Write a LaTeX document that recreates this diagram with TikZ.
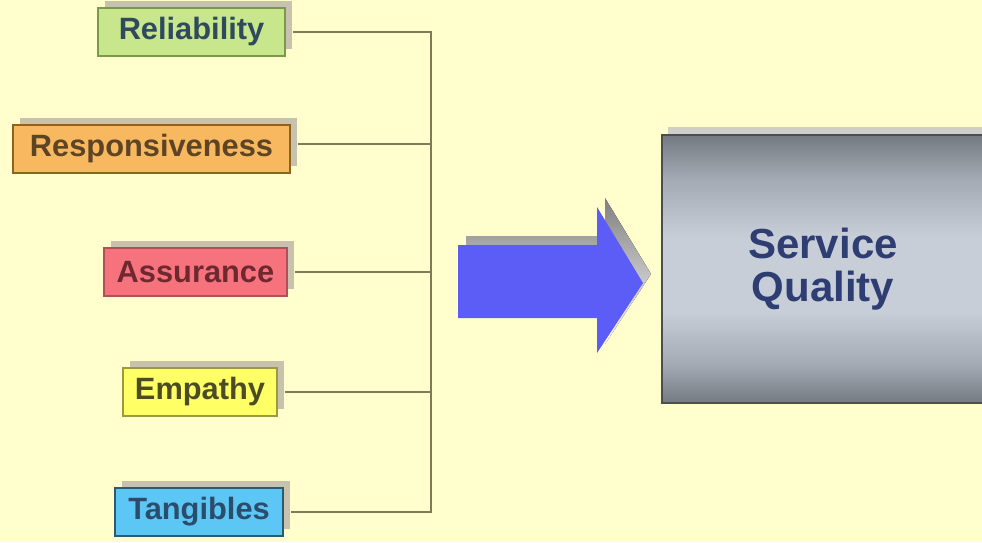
\documentclass[tikz,border=0pt]{standalone}
\usepackage{fontspec}
\setmainfont{Liberation Sans}
\usetikzlibrary{scopes,shadows}
\definecolor{paper}{HTML}{FFFECC}
\definecolor{shade}{HTML}{C6C2AE}
\definecolor{linec}{HTML}{7E7C58}
\definecolor{arrowblue}{HTML}{5C5CF6}
\definecolor{relf}{HTML}{C8E68C}
\definecolor{reld}{HTML}{7A9A4A}
\definecolor{relt}{HTML}{2E4A5C}
\definecolor{respf}{HTML}{F8B860}
\definecolor{respd}{HTML}{8A6424}
\definecolor{respt}{HTML}{5C4424}
\definecolor{assf}{HTML}{F6727C}
\definecolor{assd}{HTML}{B05058}
\definecolor{asst}{HTML}{6E2830}
\definecolor{empf}{HTML}{FFFF66}
\definecolor{empd}{HTML}{9A9A40}
\definecolor{empt}{HTML}{4C4C24}
\definecolor{tanf}{HTML}{5CC6F5}
\definecolor{tand}{HTML}{2C5A70}
\definecolor{tant}{HTML}{2C4C6C}
\definecolor{sqtext}{HTML}{2E3D72}
\definecolor{sqdraw}{HTML}{4A4E52}
\definecolor{steeldark}{HTML}{737A82}
\definecolor{steelmid}{HTML}{A2A9B2}
\definecolor{steellight}{HTML}{C8CED8}
% bright band across the middle, dark at top and bottom
\pgfdeclareverticalshading{steel}{100bp}{color(0bp)=(steeldark); color(25bp)=(steeldark);
    color(32bp)=(steelmid); color(42bp)=(steellight); color(56bp)=(steellight);
    color(67bp)=(steelmid); color(75bp)=(steeldark); color(100bp)=(steeldark)}
\tikzset{
    factor/.style={draw, line width=1.5pt, minimum height=48pt, inner sep=0pt,
        font=\bfseries\fontsize{30.8}{36}\selectfont,
        drop shadow={shadow xshift=7pt, shadow yshift=7pt, fill=shade, opacity=1}},
    link/.style={draw=linec, line width=1.3pt, shorten <=7pt},
    bigarrow/.pic={
        \fill[shade] (8,-9) -- (147,-9) -- (147,-47) -- (193,29) -- (147,99) -- (147,64) -- (8,64) -- cycle;
        \fill[arrowblue] (0,0) -- (139,0) -- (139,-38) -- (185,38) -- (139,108) -- (139,73) -- (0,73) -- cycle;
    }
}
\begin{document}
\begin{tikzpicture}[x=1pt, y=-1pt]
    \useasboundingbox (0,0) rectangle (982,542);
    \fill[paper] (0,0) rectangle (982,542);
    %factors
    \node[factor, fill=relf, draw=reld, text=relt, minimum width=187pt] (rel) at (191.5,32) {Reliability\hspace{20pt}};
    \node[factor, fill=respf, draw=respd, text=respt, minimum width=277pt] (resp) at (151.5,149) {Responsiveness};
    \node[factor, fill=assf, draw=assd, text=asst, minimum width=183pt] (assur) at (195.5,272) {Assurance};
    \node[factor, fill=empf, draw=empd, text=empt, minimum width=154pt] (emp) at (200,392) {Empathy};
    \node[factor, fill=tanf, draw=tand, text=tant, minimum width=168pt] (tang) at (199,512) {Tangibles};
    %bus
    \coordinate (bus) at (431,270);
    \draw[link, shorten >=7pt] (rel.east) -| (bus) |- (tang.east);
    \draw[link] ([yshift=5pt]resp.east) -- ([yshift=5pt]resp.east -| bus);
    \draw[link] (assur.east) -- (assur.east -| bus);
    \draw[link] (emp.east) -- (emp.east -| bus);
    %arrow
    \pic at (458,245) {bigarrow};
    %result
    \node[draw=sqdraw, line width=1.2pt, minimum width=322pt, minimum height=268pt,
        shading=steel, text=sqtext, align=center, font=\bfseries\fontsize{42}{43}\selectfont,
        drop shadow={shadow xshift=6pt, shadow yshift=8pt, fill=shade!70!gray!60, opacity=1}] (sq) at (823,269) {Service\\Quality};
\end{tikzpicture}
\end{document}
